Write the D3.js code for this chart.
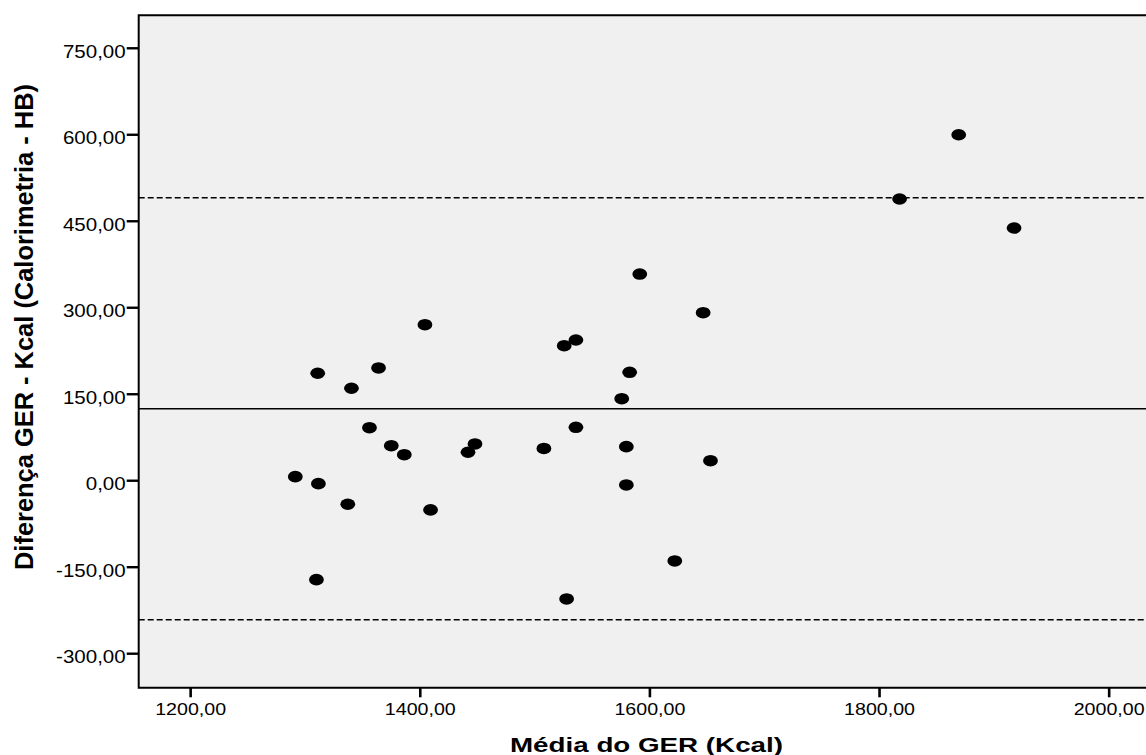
<!DOCTYPE html>
<html>
<head>
<meta charset="utf-8">
<script src="https://cdn.jsdelivr.net/npm/d3@7"></script>
<style>
  html, body { margin: 0; padding: 0; background: #ffffff; }
  svg { display: block; font-family: "Liberation Sans", Arial, sans-serif; }
</style>
</head>
<body>
<svg id="chart" width="1146" height="755"></svg>
<script>
// ---- data ----
const meanGER = [1291.6, 1311.1, 1311.7, 1310.0, 1337.3, 1340.5, 1356.2, 1364.1, 1375.2, 1386.5,
                 1404.5, 1409.4, 1442.0, 1448.1, 1508.1, 1525.8, 1527.9, 1536.0, 1536.0, 1575.9,
                 1579.9, 1579.9, 1582.8, 1591.6, 1622.1, 1646.8, 1653.2, 1817.9, 1869.4, 1917.6];
const diffGER = [6.2, 185.5, -5.9, -172.4, -41.7, 159.5, 91.1, 194.7, 59.9, 44.3,
                 269.7, -51.5, 48.5, 62.9, 55.1, 233.3, -205.9, 243.2, 91.8, 141.4,
                 58.2, -8.2, 187.2, 357.6, -140.0, 290.5, 33.9, 487.7, 599.2, 437.4];
const meanDifference = 124;
const upperLimit = 490;
const lowerLimit = -242;
const xTicks = [1200, 1400, 1600, 1800, 2000];
const yTicks = [-300, -150, 0, 150, 300, 450, 600, 750];
const xDomain = [1155.2, 2036];
const yDomain = [-360, 806.5];
const xTitle = "Média do GER (Kcal)";
const yTitle = "Diferença GER - Kcal (Calorimetria - HB)";

// ---- layout ----
const plot = { left: 138.7, right: 1150, top: 15.2, bottom: 687.8 };
const svg = d3.select("#chart");

const x = d3.scaleLinear().domain(xDomain).range([plot.left, plot.right]);
const y = d3.scaleLinear().domain(yDomain).range([plot.bottom, plot.top]);

const locale = d3.formatLocale({ decimal: ",", thousands: ".", grouping: [3], currency: ["", ""], minus: "-" });
const fmt = locale.format(".2f");

function stretch(sel, factor) {
  sel.each(function () {
    const w = this.getComputedTextLength();
    d3.select(this).attr("textLength", w * factor).attr("lengthAdjust", "spacingAndGlyphs");
  });
}

// plot background
svg.append("rect")
  .attr("x", plot.left).attr("y", plot.top)
  .attr("width", plot.right - plot.left).attr("height", plot.bottom - plot.top)
  .attr("fill", "#f0f0f0");

// reference lines
const refLines = [
  { v: upperLimit, dash: "6,3" },
  { v: meanDifference, dash: null },
  { v: lowerLimit, dash: "6,3" }
];
svg.append("g").selectAll("line").data(refLines).join("line")
  .attr("x1", plot.left).attr("x2", plot.right)
  .attr("y1", d => y(d.v)).attr("y2", d => y(d.v))
  .attr("stroke", "#000").attr("stroke-width", 1.4)
  .attr("stroke-dasharray", d => d.dash);

// points
svg.append("g").selectAll("ellipse").data(meanGER.map((m, i) => [m, diffGER[i]])).join("ellipse")
  .attr("cx", d => x(d[0])).attr("cy", d => y(d[1]))
  .attr("rx", 7.4).attr("ry", 5.8)
  .attr("fill", "#000");

// frame
svg.append("path")
  .attr("d", `M${plot.right},${plot.top}H${plot.left}V${plot.bottom}H${plot.right}`)
  .attr("fill", "none").attr("stroke", "#000").attr("stroke-width", 2);

// y axis
const yAxis = svg.append("g")
  .attr("transform", `translate(${plot.left},0)`)
  .call(d3.axisLeft(y).tickValues(yTicks).tickSize(12).tickPadding(1).tickFormat(fmt));
yAxis.select(".domain").remove();
yAxis.selectAll(".tick line").attr("stroke", "#000").attr("stroke-width", 2.4);
yAxis.selectAll(".tick text")
  .attr("dy", null).attr("y", 9.5)
  .attr("fill", "#000").style("font-size", "18px");
stretch(yAxis.selectAll(".tick text"), 1.14);

// x axis
const xAxis = svg.append("g")
  .attr("transform", `translate(0,${plot.bottom})`)
  .call(d3.axisBottom(x).tickValues(xTicks).tickSize(9.5).tickFormat(fmt));
xAxis.select(".domain").remove();
xAxis.selectAll(".tick line").attr("stroke", "#000").attr("stroke-width", 2.6);
xAxis.selectAll(".tick text")
  .attr("dy", null).attr("y", 27.5)
  .attr("fill", "#000").style("font-size", "16.8px");
stretch(xAxis.selectAll(".tick text"), 1.17);

// axis titles
svg.append("text")
  .attr("x", 646.5).attr("y", 752)
  .attr("text-anchor", "middle")
  .style("font-size", "20.5px").style("font-weight", "bold")
  .attr("fill", "#000")
  .attr("textLength", 273).attr("lengthAdjust", "spacingAndGlyphs")
  .text(xTitle);

svg.append("text")
  .attr("transform", "translate(33,327) rotate(-90)")
  .attr("text-anchor", "middle")
  .style("font-size", "25px").style("font-weight", "bold")
  .attr("fill", "#000")
  .attr("textLength", 486).attr("lengthAdjust", "spacingAndGlyphs")
  .text(yTitle);
</script>
</body>
</html>
